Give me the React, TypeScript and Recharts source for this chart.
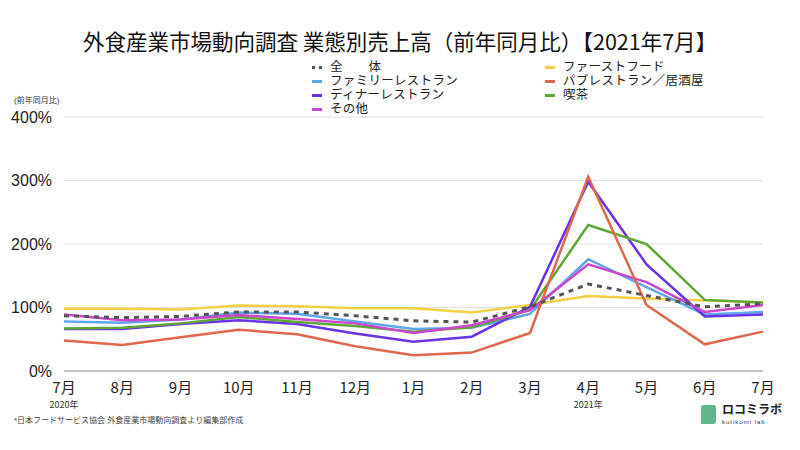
import { LineChart, Line, XAxis, YAxis, CartesianGrid } from "recharts";

const months = ["7月", "8月", "9月", "10月", "11月", "12月", "1月", "2月", "3月", "4月", "5月", "6月", "7月"];
const yearLabels: Record<number, string> = { 0: "2020年", 9: "2021年" };
const yTicks = [0, 100, 200, 300, 400];

const zentai = [87, 84, 86, 93, 93, 87, 79, 77, 101, 137, 119, 101, 106];
const fastFood = [98, 98, 97, 103, 102, 99, 99, 92, 104, 118, 114, 111, 108];
const family = [78, 76, 81, 92, 90, 78, 66, 68, 90, 176, 132, 89, 93];
const pub = [48, 41, 53, 65, 58, 39, 25, 29, 60, 306, 104, 42, 62];
const dinner = [66, 66, 74, 80, 74, 59, 46, 54, 101, 298, 168, 86, 89];
const kissa = [67, 68, 75, 85, 77, 71, 62, 69, 96, 230, 200, 112, 108];
const sonota = [89, 80, 81, 88, 82, 75, 60, 72, 96, 168, 140, 93, 104];

const series = [
  { key: "fastFood", name: "ファーストフード", color: "#f3cf45", values: fastFood },
  { key: "family", name: "ファミリーレストラン", color: "#5ea7ea", values: family },
  { key: "dinner", name: "ディナーレストラン", color: "#6a32e6", values: dinner },
  { key: "kissa", name: "喫茶", color: "#5fa835", values: kissa },
  { key: "sonota", name: "その他", color: "#cc45cc", values: sonota },
  { key: "pub", name: "パブレストラン／居酒屋", color: "#e0674b", values: pub },
];

const data = months.map((m, i) => {
  const row: Record<string, number> = { idx: i, zentai: zentai[i] };
  series.forEach((s) => (row[s.key] = s.values[i]));
  return row;
});

const font = '"Noto Sans CJK JP", "Noto Sans", sans-serif';
// latin-first stack: same CJK glyphs, tighter text boxes
const tightFont = '"Liberation Sans", "Noto Sans CJK JP", sans-serif';

const legendLeft = [
  { name: "全　　体", color: "#555", dashed: true },
  { name: "ファミリーレストラン", color: "#5ea7ea" },
  { name: "ディナーレストラン", color: "#6a32e6" },
  { name: "その他", color: "#cc45cc" },
];
const legendRight = [
  { name: "ファーストフード", color: "#f3cf45" },
  { name: "パブレストラン／居酒屋", color: "#e0674b" },
  { name: "喫茶", color: "#5fa835" },
];

function MonthTick(props: any) {
  const { x, y, payload } = props;
  const i = payload.value as number;
  return (
    <g transform={`translate(${x},${y})`}>
      <text x={0} y={14} textAnchor="middle" fill="#222" fontSize={15} fontFamily={font}>
        {months[i]}
      </text>
      {yearLabels[i] && (
        <text x={0} y={29} textAnchor="middle" fill="#333" fontSize={9} fontFamily={font}>
          {yearLabels[i]}
        </text>
      )}
    </g>
  );
}

function LegendItem({ item }: { item: { name: string; color: string; dashed?: boolean } }) {
  return (
    <div style={{ display: "flex", alignItems: "center", height: 14 }}>
      {item.dashed ? (
        <div style={{ width: 10, display: "flex", justifyContent: "space-between", marginRight: 8 }}>
          <div style={{ width: 3, height: 3, background: item.color }} />
          <div style={{ width: 3, height: 3, background: item.color }} />
        </div>
      ) : (
        <div style={{ width: 10, height: 3, background: item.color, marginRight: 8 }} />
      )}
      <span style={{ fontSize: 12.5, fontFamily: tightFont, color: "#222", lineHeight: "14px", letterSpacing: 0.3 }}>
        {item.name}
      </span>
    </div>
  );
}

export default function App() {
  return (
    <div style={{ position: "fixed", left: 0, top: 0, width: 800, height: 450, background: "#fff", fontFamily: font }}>
      <div style={{ position: "absolute", top: 28, left: 0, width: 800, textAlign: "center", fontSize: 21.5, lineHeight: "26px", color: "#111" }}>
        外食産業市場動向調査 業態別売上高（前年同月比）【2021年7月】
      </div>
      <div style={{ position: "absolute", top: 60, left: 312 }}>
        {legendLeft.map((it) => (
          <LegendItem key={it.name} item={it} />
        ))}
      </div>
      <div style={{ position: "absolute", top: 60, left: 545 }}>
        {legendRight.map((it) => (
          <LegendItem key={it.name} item={it} />
        ))}
      </div>
      <div style={{ position: "absolute", top: 96, left: 14, fontSize: 8, lineHeight: "9px", fontFamily: tightFont, color: "#333" }}>(前年同月比)</div>
      <LineChart width={800} height={450} data={data} margin={{ top: 117, right: 37, bottom: 49, left: 0 }}>
        <CartesianGrid vertical={false} stroke="#e2e2e2" />
        <XAxis
          dataKey="idx"
          type="category"
          height={30}
          axisLine={{ stroke: "#b5b5b5", strokeWidth: 1.5 }}
          tickLine={false}
          interval={0}
          tick={<MonthTick />}
        />
        <YAxis
          width={64}
          domain={[0, 400]}
          ticks={yTicks}
          axisLine={false}
          tickLine={false}
          tickFormatter={(v) => `${v}%`}
          tick={{ fill: "#222", fontSize: 16, fontFamily: tightFont }}
          tickMargin={6}
        />
        {series.map((s) => (
          <Line
            key={s.key}
            dataKey={s.key}
            name={s.name}
            stroke={s.color}
            strokeWidth={2.5}
            dot={false}
            isAnimationActive={false}
          />
        ))}
        <Line
          dataKey="zentai"
          name="全体"
          stroke="#555"
          strokeWidth={3}
          strokeDasharray="5 5"
          dot={false}
          isAnimationActive={false}
        />
      </LineChart>
      <div style={{ position: "absolute", top: 416, left: 14, fontSize: 8, lineHeight: "9px", fontFamily: tightFont, color: "#444" }}>
        *日本フードサービス協会 外食産業市場動向調査より編集部作成
      </div>
      <div style={{ position: "absolute", top: 403, left: 701, display: "flex", alignItems: "center" }}>
        <div style={{ width: 15, height: 19, background: "#62b68e", borderRadius: "3px 3px 3px 0", marginRight: 6 }} />
        <div style={{ fontFamily: tightFont }}>
          <div style={{ fontSize: 12, fontWeight: 700, color: "#222", lineHeight: "14px", height: 14 }}>ロコミラボ</div>
          <div style={{ fontSize: 6, color: "#333", letterSpacing: 1, lineHeight: "8px", height: 8, marginTop: 1 }}>kutikomi lab</div>
        </div>
      </div>
    </div>
  );
}
